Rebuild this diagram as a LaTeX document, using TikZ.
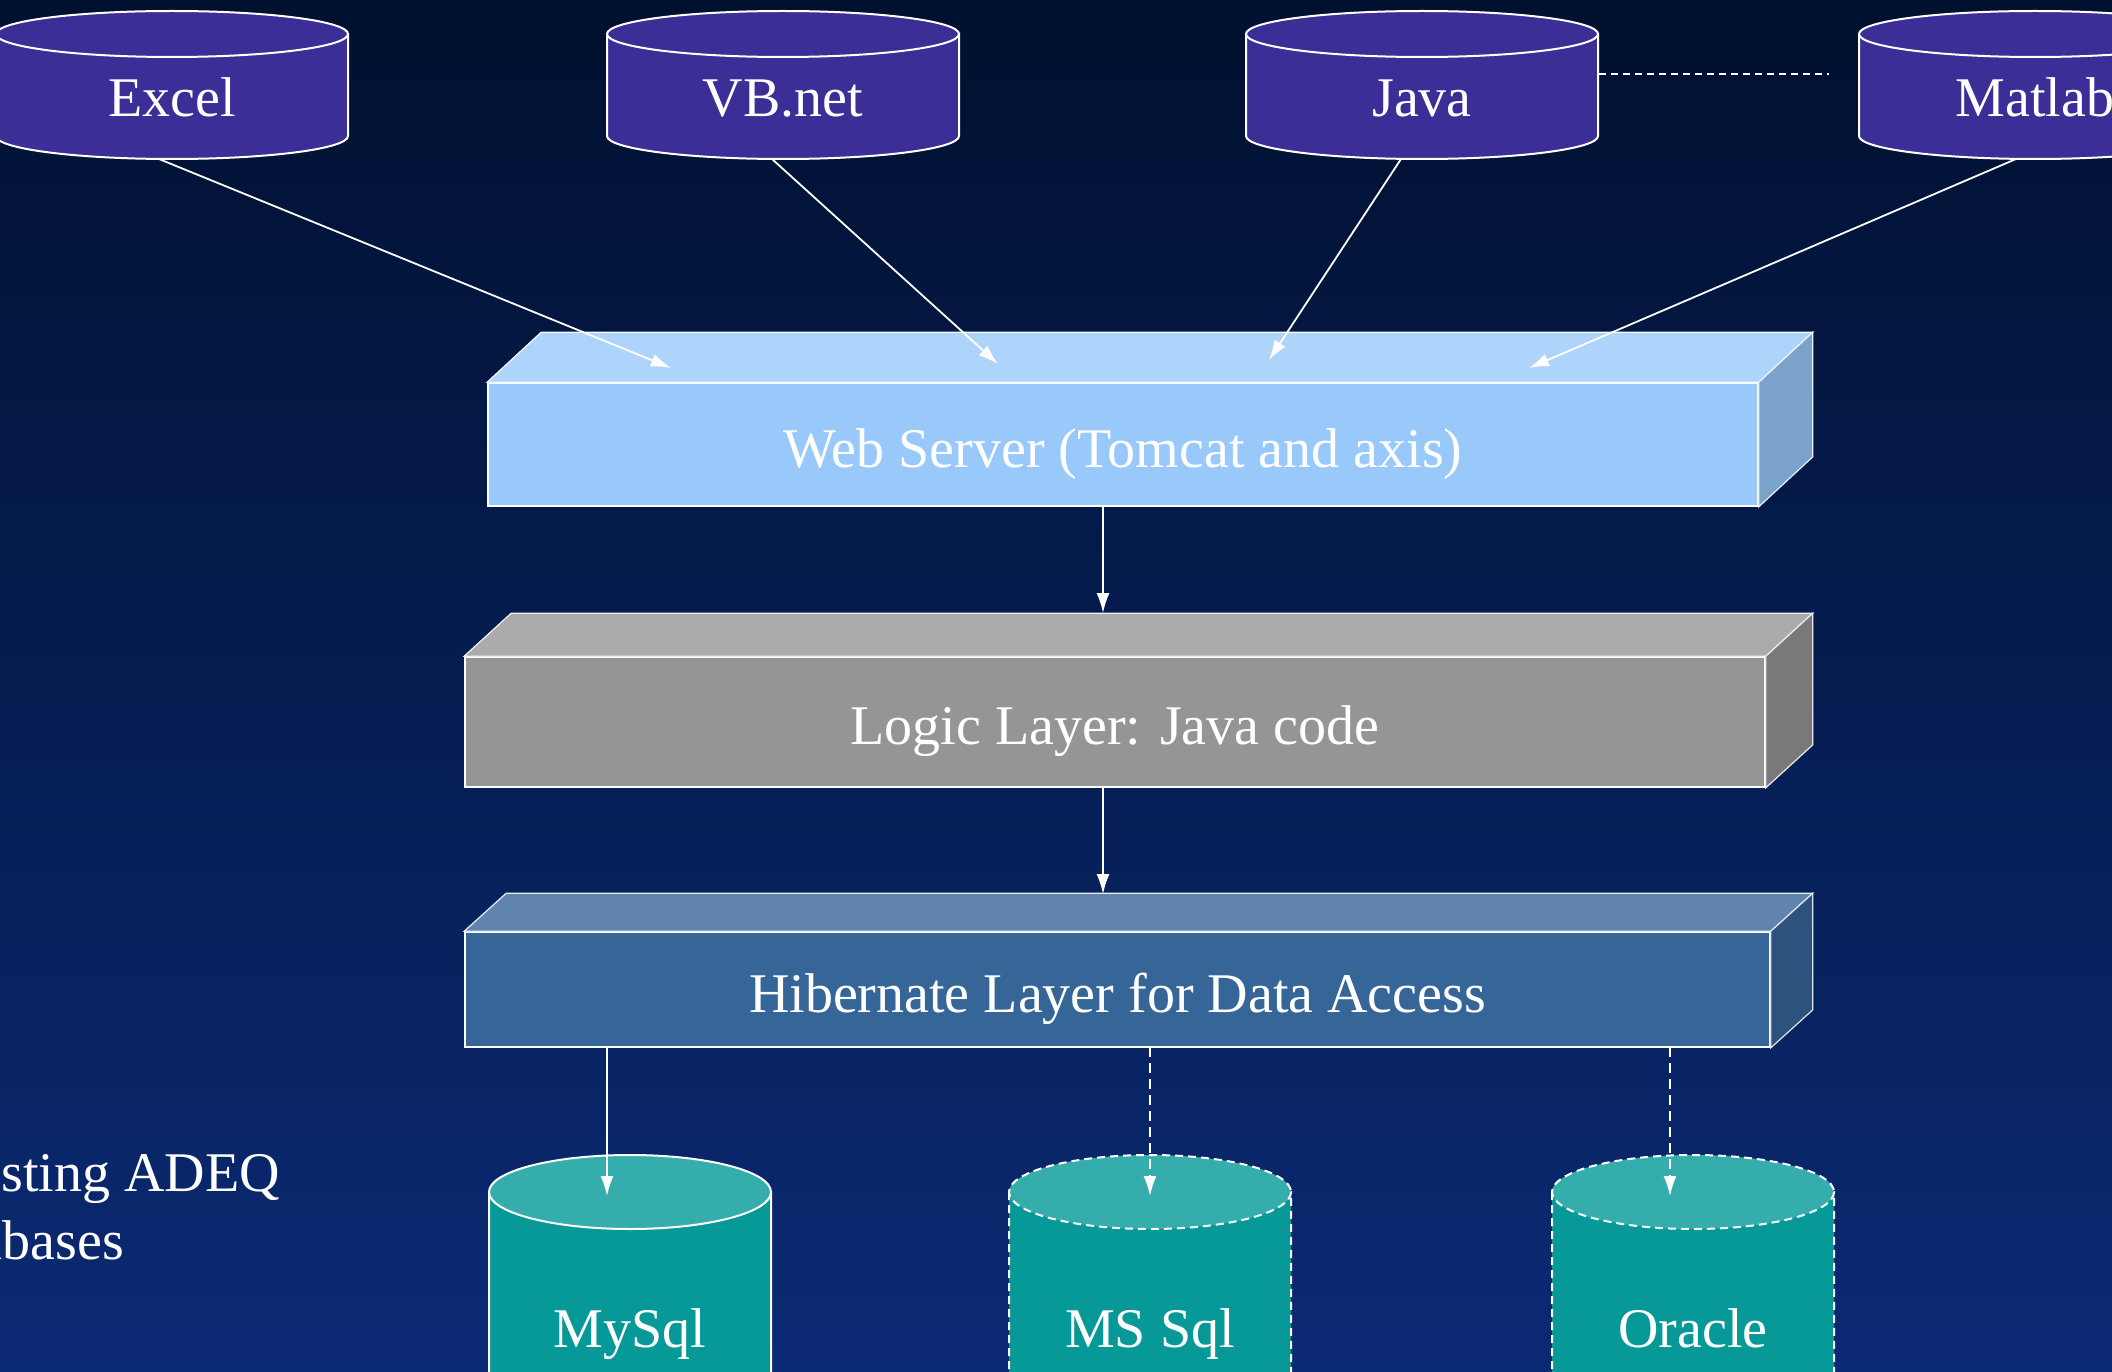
\documentclass[tikz,border=0pt]{standalone}
\usepackage{fontspec}
\setmainfont{Liberation Serif}
\usepackage{tikz}
\usetikzlibrary{positioning,arrows.meta,calc}

\definecolor{bgtop}{HTML}{00102F}
\definecolor{bgmid}{HTML}{0B1F5C}
\definecolor{bgbot}{HTML}{0B2A74}
\definecolor{appviolet}{HTML}{3B2E96}
\definecolor{dbteal}{HTML}{079898}
\definecolor{dblid}{HTML}{35ADAC}
\definecolor{webfront}{HTML}{99C9FB}
\definecolor{webtop}{HTML}{AED4FC}
\definecolor{webside}{HTML}{7BA2CA}
\definecolor{logfront}{HTML}{959595}
\definecolor{logtop}{HTML}{ABABAB}
\definecolor{logside}{HTML}{797979}
\definecolor{hibfront}{HTML}{366598}
\definecolor{hibtop}{HTML}{6084AE}
\definecolor{hibside}{HTML}{2E527E}

\tikzset{
  bigtext/.style={text=white, font=\fontsize{56}{67}\selectfont},
  layer/.style={bigtext, draw=white, line width=1.6pt, inner sep=0pt,
    text height=45pt, text depth=0pt},
  dblabel/.style={bigtext, anchor=base, inner sep=0pt},
  cylline/.style={draw=white, line width=2pt},
  flow/.style={draw=white, line width=1.8pt, -{Latex[length=20pt,width=13pt]}},
  dashflow/.style={flow, dash pattern=on 10pt off 6pt},
}

% cylinder: cx, top y, bottom y, rx, ry, body style, lid style
\newcommand{\drawdb}[7]{%
  \path[#6] (#1-#4,#2) -- (#1-#4,#3)
    arc[start angle=180, end angle=0, x radius=#4, y radius=#5]
    -- (#1+#4,#2) -- cycle;
  \path[#7] (#1,#2) ellipse[x radius=#4, y radius=#5];
}

% top and side faces of a layer: name, dx, dy, top colour, side colour
\newcommand{\layerfaces}[5]{%
  \path[fill=#4, draw=white!85!#4, line width=1.2pt] (#1.north west) -- ++(#2,-#3)
    -- ($(#1.north east)+(#2,-#3)$) -- (#1.north east) -- cycle;
  \path[fill=#5, draw=white!85!#5, line width=1.2pt] (#1.north east) -- ++(#2,-#3)
    -- ($(#1.south east)+(#2,-#3)$) -- (#1.south east) -- cycle;
}

\begin{document}
\begin{tikzpicture}[x=1pt, y=-1pt]

  \useasboundingbox (0,0) rectangle (2112,1372);
  \clip (0,0) rectangle (2112,1372);
  \shade[top color=bgtop, middle color=bgmid, bottom color=bgbot] (0,0) rectangle (2112,1372);

  % client applications
  \drawdb{172}{34}{136}{176}{23}{cylline, fill=appviolet}{cylline, fill=appviolet}
  \drawdb{783}{34}{136}{176}{23}{cylline, fill=appviolet}{cylline, fill=appviolet}
  \drawdb{1422}{34}{136}{176}{23}{cylline, fill=appviolet}{cylline, fill=appviolet}
  \drawdb{2035}{34}{136}{176}{23}{cylline, fill=appviolet}{cylline, fill=appviolet}

  \node[dblabel] (excel) at (172,117) {Excel};
  \node[dblabel] (vbnet) at (783,117) {VB.net};
  \node[dblabel] (java) at (1422,117) {Java};
  \node[dblabel] (matlab) at (2035,117) {Matlab};

  \coordinate (excel-b) at (159,159);
  \coordinate (vbnet-b) at (772,159);
  \coordinate (java-b) at (1401,159);
  \coordinate (matlab-b) at (2016,159);
  \coordinate (java-r) at (1599,74);
  \coordinate (matlab-l) at (1829,74);

  \draw[draw=white, line width=1.8pt, dash pattern=on 7pt off 5pt] (java-r) -- (matlab-l);

  % layers
  \node[layer, fill=webfront, minimum width=1270, minimum height=123] (web) at (1123,444.5)
    {Web Server (Tomcat and axis)};
  \layerfaces{web}{54}{50}{webtop}{webside}

  \node[layer, fill=logfront, minimum width=1300, minimum height=130] (logic) at (1115,722)
    {Logic Layer: Java code};
  \layerfaces{logic}{47}{43}{logtop}{logside}

  \node[layer, fill=hibfront, minimum width=1305, minimum height=115] (hib) at (1117.5,989.5)
    {Hibernate Layer for Data Access};
  \layerfaces{hib}{42}{38}{hibtop}{hibside}

  \coordinate (web-a) at (671,368);
  \coordinate (web-b) at (998,364);
  \coordinate (web-c) at (1269,360);
  \coordinate (web-d) at (1529,368);
  \coordinate (web-out) at ([xshift=-20pt]web.south);
  \coordinate (logic-in) at (1103,613);
  \coordinate (logic-out) at ([xshift=-12pt]logic.south);
  \coordinate (hib-in) at (1103,894);
  \coordinate (hib-1) at (607,1047);
  \coordinate (hib-2) at (1150,1047);
  \coordinate (hib-3) at (1670,1047);

  % databases
  \drawdb{630}{1192}{1450}{141}{37}{cylline, fill=dbteal}{cylline, fill=dblid}
  \drawdb{1150}{1192}{1450}{141}{37}{cylline, fill=dbteal, dash pattern=on 8pt off 5pt}{cylline, fill=dblid, dash pattern=on 8pt off 5pt}
  \drawdb{1693}{1192}{1450}{141}{37}{cylline, fill=dbteal, dash pattern=on 8pt off 5pt}{cylline, fill=dblid, dash pattern=on 8pt off 5pt}

  \node[dblabel] (mysql) at (630,1347) {MySql};
  \node[dblabel] (mssql) at (1150,1347) {MS Sql};
  \node[dblabel] (oracle) at (1693,1347) {Oracle};

  \coordinate (mysql-t) at (607,1196);
  \coordinate (mssql-t) at (1150,1196);
  \coordinate (oracle-t) at (1670,1196);

  \node[bigtext, anchor=base east, inner sep=0pt] (exist) at (280,1191) {Existing ADEQ};
  \node[bigtext, anchor=base east, inner sep=0pt] (dbases) at (124,1259) {Databases};

  % connectors
  \draw[flow] (excel-b) -- (web-a);
  \draw[flow] (vbnet-b) -- (web-b);
  \draw[flow] (java-b) -- (web-c);
  \draw[flow] (matlab-b) -- (web-d);
  \draw[flow] (web-out) -- (logic-in);
  \draw[flow] (logic-out) -- (hib-in);
  \draw[flow] (hib-1) -- (mysql-t);
  \draw[dashflow] (hib-2) -- (mssql-t);
  \draw[dashflow] (hib-3) -- (oracle-t);

\end{tikzpicture}
\end{document}
